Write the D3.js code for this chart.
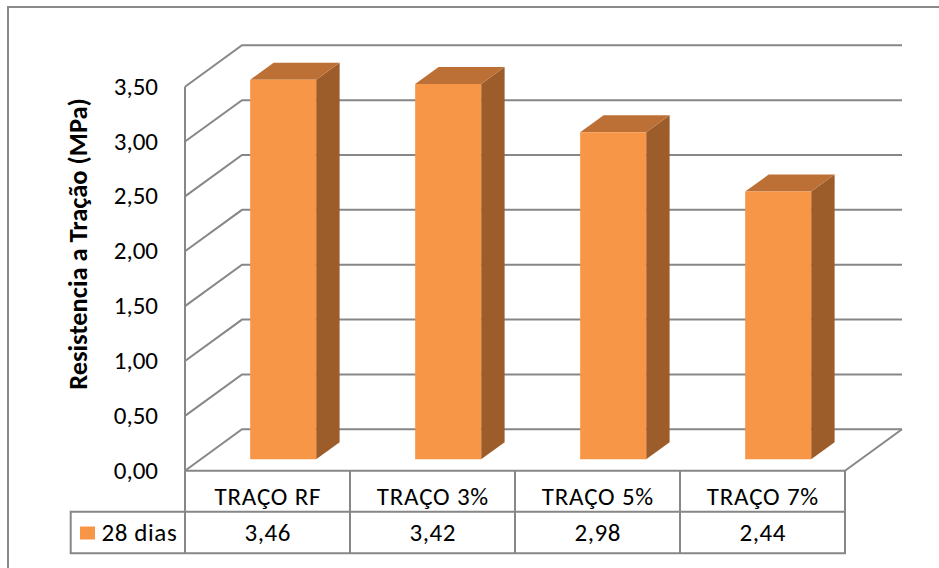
<!DOCTYPE html>
<html>
<head>
<meta charset="utf-8">
<script src="https://cdn.jsdelivr.net/npm/d3@7"></script>
<style>
  html, body { margin: 0; padding: 0; background: #fff; }
  svg { display: block; }
  text { font-family: Carlito, Calibri, Lato, "Open Sans", sans-serif; fill: #000; }
</style>
</head>
<body>
<svg id="chart" width="939" height="568"></svg>
<script>
// Tensile strength at 28 days for each mix
const categories = ["TRAÇO RF", "TRAÇO 3%", "TRAÇO 5%", "TRAÇO 7%"];
const values = [3.46, 3.42, 2.98, 2.44];
const valueLabels = ["3,46", "3,42", "2,98", "2,44"];
const seriesName = "28 dias";
const yTicks = [0, 0.5, 1, 1.5, 2, 2.5, 3, 3.5];
const yTickLabels = ["0,00", "0,50", "1,00", "1,50", "2,00", "2,50", "3,00", "3,50"];
const yTitle = "Resistencia a Tração (MPa)";

const svg = d3.select("#chart");

// plot frame (front plane) and oblique depth
const plotLeft = 185, plotRight = 845, plotTop = 86.7, plotBottom = 470.7;
const depth = { dx: 57, dy: -41.4 };
const barDepth = [0.275, 0.686];   // front / back of bars as fraction of depth

const x = d3.scaleBand().domain(categories).range([plotLeft, plotRight]).paddingInner(0.6).paddingOuter(0.3);
const col = d3.scaleBand().domain(categories).range([plotLeft, plotRight]);
const y = d3.scaleLinear().domain([0, 3.5]).range([plotBottom, plotTop]);

const gridColor = "#878787";
const fontSize = "25px";
const P = (px, py, f) => [px + f * depth.dx, py + f * depth.dy];

function label(g, tx, ty, txt, anchor, spacing) {
  return g.append("text")
    .attr("x", tx).attr("y", ty)
    .attr("text-anchor", anchor)
    .style("font-size", fontSize)
    .style("letter-spacing", spacing || "0px")
    .text(txt);
}

// outer chart border
svg.append("rect").attr("x", 8).attr("y", 7).attr("width", 1000).attr("height", 1000)
  .attr("fill", "none").attr("stroke", "#8a8a8a").attr("stroke-width", 2);

// back wall gridlines + left wall diagonals
const grid = svg.append("g").attr("stroke", gridColor).attr("stroke-width", 2).attr("fill", "none");
yTicks.forEach(t => {
  const [bx, by] = P(plotLeft, y(t), 1);
  const [rx] = P(plotRight, y(t), 1);
  grid.append("path").attr("d", `M${plotLeft},${y(t)}L${bx},${by}L${rx},${by}`);
});
// left wall front edge
grid.append("line").attr("x1", plotLeft).attr("x2", plotLeft).attr("y1", y(3.5)).attr("y2", y(0));
// floor right edge
{
  const [fx, fy] = P(plotRight, y(0), 1);
  grid.append("line").attr("x1", plotRight).attr("y1", y(0)).attr("x2", fx).attr("y2", fy);
}

// bars
const bars = svg.append("g");
categories.forEach((c, i) => {
  const v = values[i];
  const x0 = x(c), x1 = x(c) + x.bandwidth();
  const f0 = barDepth[0], f1 = barDepth[1];
  const A = P(x0, y(v), f0), B = P(x1, y(v), f0), Cb = P(x1, y(0), f0);
  const Bt = P(x1, y(v), f1), At = P(x0, y(v), f1), Cbb = P(x1, y(0), f1);
  const Ab = P(x0, y(0), f0);
  // right side
  bars.append("path").attr("d", `M${B}L${Bt}L${Cbb}L${Cb}Z`).attr("fill", "#9c5d2b");
  // top
  bars.append("path").attr("d", `M${A}L${At}L${Bt}L${B}Z`).attr("fill", "#bd7036");
  // front
  bars.append("path").attr("d", `M${A}L${B}L${Cb}L${Ab}Z`).attr("fill", "#f79646");
});

// y tick labels
const yLab = svg.append("g");
yTicks.forEach((t, i) => label(yLab, 158, y(t) + 8, yTickLabels[i], "end"));

// y title
svg.append("text").attr("transform", "translate(87,244) rotate(-90)")
  .attr("text-anchor", "middle").style("font-size", "26.5px").style("font-weight", "bold")
  .text(yTitle);

// data table
const rowTop = plotBottom, rowMid = 511.7, rowBot = 553.3, tableLeft = 70.7;
const tbl = svg.append("g").attr("stroke", gridColor).attr("stroke-width", 2).attr("fill", "none");
tbl.append("path").attr("d", `M${plotLeft},${rowTop}L${plotRight},${rowTop}L${plotRight},${rowBot}L${tableLeft},${rowBot}L${tableLeft},${rowMid}L${plotRight},${rowMid}`);
tbl.append("line").attr("x1", plotLeft).attr("x2", plotLeft).attr("y1", rowTop).attr("y2", rowBot);
categories.slice(1).forEach(c => {
  tbl.append("line").attr("x1", col(c)).attr("x2", col(c)).attr("y1", rowTop).attr("y2", rowBot);
});

const tblText = svg.append("g");
categories.forEach((c, i) => {
  const cx = col(c) + col.bandwidth() / 2;
  label(tblText, cx + 0.4, rowMid - 6.5, c, "middle", "0.8px");
  label(tblText, cx + 0.3, rowBot - 12.3, valueLabels[i], "middle", "0.6px");
});

// legend key
svg.append("rect").attr("x", 80).attr("y", 526.5).attr("width", 15).attr("height", 13).attr("fill", "#f79646");
label(svg, 101.5, rowBot - 12.3, seriesName, "start", "0.6px");
</script>
</body>
</html>
